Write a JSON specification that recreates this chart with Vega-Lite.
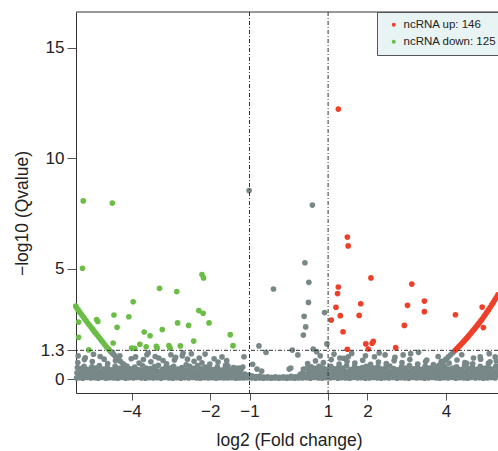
{
  "$schema": "https://vega.github.io/schema/vega-lite/v6.json",
  "width": 422,
  "height": 381,
  "autosize": {"type": "none"},
  "padding": {"left": 76, "top": 12, "right": 0, "bottom": 58},
  "background": "white",
  "config": {
    "view": {"stroke": null},
    "axis": {"labelFont": "Liberation Sans", "titleFont": "Liberation Sans", "labelFontSize": 17, "titleFontSize": 17.5, "titleFontWeight": "normal", "labelColor": "#222", "titleColor": "#222", "domainColor": "#333", "tickColor": "#555", "grid": false}
  },
  "datasets": {
    "gray": [
      {"x":-5.40,"y":0.05},{"x":-5.39,"y":0.28},{"x":-5.38,"y":0.52},{"x":-5.37,"y":0.75},
      {"x":-5.33,"y":0.06},{"x":-5.31,"y":0.22},{"x":-5.30,"y":0.47},
      {"x":-5.24,"y":0.04},{"x":-5.22,"y":0.31},{"x":-5.21,"y":0.58},{"x":-5.20,"y":0.88},
      {"x":-5.14,"y":0.07},{"x":-5.12,"y":0.19},{"x":-5.11,"y":0.44},
      {"x":-5.04,"y":0.05},{"x":-5.02,"y":0.27},{"x":-5.01,"y":0.55},{"x":-5.00,"y":0.79},
      {"x":-4.94,"y":0.06},{"x":-4.93,"y":0.24},{"x":-4.91,"y":0.49},
      {"x":-4.85,"y":0.04},{"x":-4.83,"y":0.33},{"x":-4.82,"y":0.61},{"x":-4.80,"y":1.02},
      {"x":-4.75,"y":0.07},{"x":-4.74,"y":0.21},{"x":-4.72,"y":0.45},
      {"x":-4.65,"y":0.04},{"x":-4.64,"y":0.29},{"x":-4.62,"y":0.53},{"x":-4.61,"y":0.70},
      {"x":-4.55,"y":0.06},{"x":-4.54,"y":0.18},{"x":-4.52,"y":0.42},
      {"x":-4.45,"y":0.05},{"x":-4.44,"y":0.30},{"x":-4.42,"y":0.57},{"x":-4.41,"y":0.83},
      {"x":-4.35,"y":0.04},{"x":-4.34,"y":0.25},{"x":-4.32,"y":0.48},
      {"x":-4.25,"y":0.07},{"x":-4.24,"y":0.20},{"x":-4.23,"y":0.51},{"x":-4.21,"y":0.66},
      {"x":-4.15,"y":0.04},{"x":-4.14,"y":0.32},{"x":-4.12,"y":0.59},
      {"x":-4.05,"y":0.06},{"x":-4.04,"y":0.23},{"x":-4.03,"y":0.46},{"x":-4.01,"y":0.92},
      {"x":-3.95,"y":0.05},{"x":-3.94,"y":0.27},{"x":-3.92,"y":0.54},
      {"x":-3.85,"y":0.07},{"x":-3.84,"y":0.19},{"x":-3.83,"y":0.43},{"x":-3.81,"y":0.72},
      {"x":-3.75,"y":0.05},{"x":-3.74,"y":0.31},{"x":-3.72,"y":0.60},
      {"x":-3.65,"y":0.04},{"x":-3.64,"y":0.24},{"x":-3.63,"y":0.50},{"x":-3.61,"y":1.10},
      {"x":-3.55,"y":0.06},{"x":-3.54,"y":0.28},{"x":-3.52,"y":0.47},{"x":-3.51,"y":0.78},
      {"x":-3.45,"y":0.05},{"x":-3.44,"y":0.22},{"x":-3.42,"y":0.56},
      {"x":-3.35,"y":0.06},{"x":-3.34,"y":0.33},{"x":-3.32,"y":0.62},{"x":-3.31,"y":0.95},
      {"x":-3.25,"y":0.04},{"x":-3.24,"y":0.20},{"x":-3.22,"y":0.44},
      {"x":-3.15,"y":0.07},{"x":-3.14,"y":0.26},{"x":-3.13,"y":0.53},{"x":-3.11,"y":0.69},
      {"x":-3.05,"y":0.05},{"x":-3.04,"y":0.30},{"x":-3.02,"y":0.49},
      {"x":-2.95,"y":0.04},{"x":-2.94,"y":0.21},{"x":-2.93,"y":0.58},{"x":-2.91,"y":0.86},
      {"x":-2.85,"y":0.06},{"x":-2.84,"y":0.29},{"x":-2.82,"y":0.45},
      {"x":-2.75,"y":0.04},{"x":-2.74,"y":0.25},{"x":-2.72,"y":0.52},{"x":-2.71,"y":1.05},
      {"x":-2.65,"y":0.06},{"x":-2.64,"y":0.18},{"x":-2.62,"y":0.41},{"x":-2.61,"y":0.64},
      {"x":-2.55,"y":0.05},{"x":-2.54,"y":0.32},{"x":-2.52,"y":0.57},
      {"x":-2.45,"y":0.07},{"x":-2.44,"y":0.23},{"x":-2.42,"y":0.48},{"x":-2.41,"y":0.80},
      {"x":-2.35,"y":0.05},{"x":-2.34,"y":0.27},{"x":-2.32,"y":0.61},
      {"x":-2.25,"y":0.04},{"x":-2.24,"y":0.20},{"x":-2.22,"y":0.46},{"x":-2.21,"y":0.73},
      {"x":-2.15,"y":0.06},{"x":-2.14,"y":0.30},{"x":-2.12,"y":0.54},
      {"x":-2.05,"y":0.05},{"x":-2.04,"y":0.24},{"x":-2.02,"y":0.50},{"x":-2.01,"y":0.68},
      {"x":-1.95,"y":0.06},{"x":-1.94,"y":0.19},{"x":-1.92,"y":0.43},
      {"x":-1.85,"y":0.04},{"x":-1.84,"y":0.28},{"x":-1.82,"y":0.55},{"x":-1.80,"y":0.77},
      {"x":-1.75,"y":0.06},{"x":-1.74,"y":0.22},{"x":-1.72,"y":0.40},
      {"x":-1.65,"y":0.05},{"x":-1.64,"y":0.26},{"x":-1.62,"y":0.49},{"x":-1.61,"y":0.62},
      {"x":-1.55,"y":0.05},{"x":-1.54,"y":0.20},{"x":-1.52,"y":0.44},
      {"x":-1.45,"y":0.06},{"x":-1.44,"y":0.25},{"x":-1.42,"y":0.36},{"x":-1.41,"y":0.52},
      {"x":-1.35,"y":0.04},{"x":-1.34,"y":0.18},{"x":-1.32,"y":0.33},
      {"x":-1.25,"y":0.05},{"x":-1.24,"y":0.15},{"x":-1.22,"y":0.27},{"x":-1.21,"y":0.45},
      {"x":-1.15,"y":0.05},{"x":-1.14,"y":0.12},{"x":-1.12,"y":0.22},
      {"x":-1.05,"y":0.06},{"x":-1.04,"y":0.10},{"x":-1.02,"y":0.18},
      {"x":-5.35,"y":0.16},{"x":-5.34,"y":0.38},{"x":-5.26,"y":0.12},{"x":-5.25,"y":0.41},{"x":-5.17,"y":0.17},{"x":-5.16,"y":0.35},{"x":-5.07,"y":0.13},{"x":-5.06,"y":0.40},{"x":-4.97,"y":0.15},{"x":-4.96,"y":0.37},{"x":-4.88,"y":0.11},{"x":-4.87,"y":0.42},{"x":-4.78,"y":0.16},{"x":-4.77,"y":0.36},{"x":-4.69,"y":0.14},{"x":-4.68,"y":0.39},{"x":-4.59,"y":0.12},{"x":-4.58,"y":0.34},{"x":-4.49,"y":0.17},{"x":-4.48,"y":0.40},{"x":-4.39,"y":0.13},{"x":-4.38,"y":0.37},{"x":-4.29,"y":0.15},{"x":-4.28,"y":0.36},{"x":-4.19,"y":0.11},{"x":-4.18,"y":0.41},{"x":-4.09,"y":0.16},{"x":-4.08,"y":0.38},{"x":-3.99,"y":0.14},{"x":-3.98,"y":0.35},{"x":-3.89,"y":0.12},{"x":-3.88,"y":0.40},{"x":-3.79,"y":0.17},{"x":-3.78,"y":0.37},{"x":-3.69,"y":0.13},{"x":-3.68,"y":0.42},{"x":-3.59,"y":0.15},{"x":-3.58,"y":0.36},{"x":-3.49,"y":0.11},{"x":-3.48,"y":0.39},{"x":-3.39,"y":0.16},{"x":-3.38,"y":0.40},{"x":-3.29,"y":0.14},{"x":-3.28,"y":0.35},{"x":-3.19,"y":0.12},{"x":-3.18,"y":0.38},{"x":-3.09,"y":0.17},{"x":-3.08,"y":0.41},{"x":-2.99,"y":0.13},{"x":-2.98,"y":0.37},{"x":-2.89,"y":0.15},{"x":-2.88,"y":0.36},{"x":-2.79,"y":0.11},{"x":-2.78,"y":0.40},{"x":-2.69,"y":0.16},{"x":-2.68,"y":0.38},{"x":-2.59,"y":0.14},{"x":-2.58,"y":0.35},{"x":-2.49,"y":0.12},{"x":-2.48,"y":0.41},{"x":-2.39,"y":0.17},{"x":-2.38,"y":0.37},{"x":-2.29,"y":0.13},{"x":-2.28,"y":0.39},{"x":-2.19,"y":0.15},{"x":-2.18,"y":0.36},{"x":-2.09,"y":0.11},{"x":-2.08,"y":0.40},{"x":-1.99,"y":0.16},{"x":-1.98,"y":0.35},{"x":-1.89,"y":0.14},{"x":-1.88,"y":0.38},{"x":-1.79,"y":0.12},{"x":-1.78,"y":0.34},{"x":-1.69,"y":0.17},{"x":-1.68,"y":0.36},{"x":-1.59,"y":0.13},{"x":-1.58,"y":0.32},{"x":-1.49,"y":0.15},{"x":-1.48,"y":0.30},{"x":-1.39,"y":0.11},{"x":-1.38,"y":0.26},{"x":-1.29,"y":0.10},{"x":-1.28,"y":0.22},{"x":-1.19,"y":0.09},{"x":-1.09,"y":0.08},
      {"x":-5.36,"y":1.05},{"x":-5.18,"y":0.96},{"x":-4.97,"y":1.12},{"x":-4.70,"y":0.90},{"x":-4.48,"y":1.20},{"x":-4.30,"y":1.05},{"x":-3.90,"y":1.00},{"x":-3.70,"y":0.88},{"x":-3.58,"y":1.18},{"x":-3.40,"y":1.02},{"x":-3.20,"y":0.84},{"x":-3.00,"y":1.10},{"x":-2.88,"y":0.98},{"x":-2.69,"y":1.18},{"x":-2.58,"y":0.90},{"x":-2.48,"y":1.14},{"x":-2.28,"y":0.95},{"x":-2.13,"y":1.13},{"x":-1.90,"y":0.92},{"x":-1.70,"y":1.00},{"x":-1.58,"y":0.83},{"x":-1.55,"y":0.60},{"x":-1.37,"y":0.50},{"x":-1.27,"y":0.50},{"x":-1.17,"y":0.54},{"x":-1.14,"y":1.01},
      {"x":-4.53,"y":1.24},{"x":-4.48,"y":1.15},{"x":-4.43,"y":1.06},{"x":-4.38,"y":0.97},{"x":-4.33,"y":0.88},{"x":-4.28,"y":0.79},{"x":-4.22,"y":0.69},{"x":-4.16,"y":0.59},{"x":-4.10,"y":0.49},{"x":-4.04,"y":0.39},{"x":-3.98,"y":0.30},
      {"x":-0.95,"y":0.05},{"x":-0.94,"y":0.14},{"x":-0.92,"y":0.67},{"x":-0.85,"y":0.04},{"x":-0.84,"y":0.11},{"x":-0.81,"y":0.45},{"x":-0.76,"y":1.50},{"x":-0.75,"y":0.05},{"x":-0.74,"y":0.13},{"x":-0.69,"y":0.36},{"x":-0.65,"y":0.04},{"x":-0.64,"y":0.09},{"x":-0.58,"y":1.21},{"x":-0.55,"y":0.05},{"x":-0.54,"y":0.10},{"x":-0.45,"y":0.04},{"x":-0.44,"y":0.08},{"x":-0.35,"y":0.05},{"x":-0.34,"y":0.10},{"x":-0.25,"y":0.04},{"x":-0.24,"y":0.08},{"x":-0.15,"y":0.05},{"x":-0.14,"y":0.10},{"x":-0.05,"y":0.04},{"x":-0.04,"y":0.09},{"x":0.01,"y":0.45},{"x":0.05,"y":0.05},{"x":0.06,"y":0.12},{"x":0.05,"y":0.50},{"x":0.09,"y":1.31},{"x":0.15,"y":0.04},{"x":0.16,"y":0.10},{"x":0.23,"y":1.09},{"x":0.25,"y":0.05},{"x":0.26,"y":0.14},{"x":0.30,"y":0.22},
      {"x":-1.01,"y":8.54},{"x":0.60,"y":7.88},{"x":0.41,"y":5.27},{"x":0.51,"y":4.38},{"x":-0.39,"y":4.08},{"x":0.50,"y":3.47},{"x":0.39,"y":2.84},{"x":0.43,"y":2.36},{"x":0.37,"y":1.99},{"x":0.91,"y":3.01},{"x":0.97,"y":1.59},{"x":0.62,"y":1.36},
      {"x":0.35,"y":0.05},{"x":0.36,"y":0.27},{"x":0.37,"y":0.45},
      {"x":0.45,"y":0.06},{"x":0.46,"y":0.22},{"x":0.47,"y":0.51},{"x":0.48,"y":0.70},
      {"x":0.55,"y":0.04},{"x":0.56,"y":0.30},{"x":0.57,"y":0.55},
      {"x":0.65,"y":0.07},{"x":0.66,"y":0.25},{"x":0.67,"y":0.48},{"x":0.68,"y":0.82},
      {"x":0.75,"y":0.05},{"x":0.76,"y":0.19},{"x":0.77,"y":0.58},
      {"x":0.85,"y":0.04},{"x":0.86,"y":0.29},{"x":0.87,"y":0.50},{"x":0.88,"y":0.74},
      {"x":0.95,"y":0.06},{"x":0.96,"y":0.23},{"x":0.97,"y":0.44},
      {"x":1.05,"y":0.05},{"x":1.06,"y":0.31},{"x":1.07,"y":0.57},{"x":1.08,"y":0.88},
      {"x":1.15,"y":0.07},{"x":1.16,"y":0.20},{"x":1.17,"y":0.46},
      {"x":1.25,"y":0.04},{"x":1.26,"y":0.27},{"x":1.27,"y":0.53},{"x":1.28,"y":0.68},
      {"x":1.35,"y":0.06},{"x":1.36,"y":0.24},{"x":1.37,"y":0.49},
      {"x":1.45,"y":0.05},{"x":1.46,"y":0.32},{"x":1.47,"y":0.60},{"x":1.48,"y":0.79},
      {"x":1.55,"y":0.04},{"x":1.56,"y":0.18},{"x":1.57,"y":0.43},
      {"x":1.65,"y":0.07},{"x":1.66,"y":0.28},{"x":1.67,"y":0.55},{"x":1.68,"y":0.72},
      {"x":1.75,"y":0.05},{"x":1.76,"y":0.21},{"x":1.77,"y":0.47},
      {"x":1.85,"y":0.06},{"x":1.86,"y":0.30},{"x":1.87,"y":0.52},{"x":1.88,"y":0.85},
      {"x":1.95,"y":0.04},{"x":1.96,"y":0.25},{"x":1.97,"y":0.58},
      {"x":2.05,"y":0.05},{"x":2.06,"y":0.19},{"x":2.07,"y":0.44},{"x":2.08,"y":0.66},
      {"x":2.15,"y":0.07},{"x":2.16,"y":0.33},{"x":2.17,"y":0.50},
      {"x":2.25,"y":0.05},{"x":2.26,"y":0.22},{"x":2.27,"y":0.56},{"x":2.28,"y":0.77},
      {"x":2.35,"y":0.04},{"x":2.36,"y":0.27},{"x":2.37,"y":0.45},
      {"x":2.45,"y":0.06},{"x":2.46,"y":0.20},{"x":2.47,"y":0.53},{"x":2.48,"y":0.70},
      {"x":2.55,"y":0.05},{"x":2.56,"y":0.31},{"x":2.57,"y":0.59},
      {"x":2.65,"y":0.07},{"x":2.66,"y":0.24},{"x":2.67,"y":0.47},{"x":2.68,"y":0.83},
      {"x":2.75,"y":0.04},{"x":2.76,"y":0.18},{"x":2.77,"y":0.42},
      {"x":2.85,"y":0.06},{"x":2.86,"y":0.29},{"x":2.87,"y":0.55},{"x":2.88,"y":0.74},
      {"x":2.95,"y":0.05},{"x":2.96,"y":0.23},{"x":2.97,"y":0.50},
      {"x":3.05,"y":0.04},{"x":3.06,"y":0.32},{"x":3.07,"y":0.61},{"x":3.08,"y":0.88},
      {"x":3.15,"y":0.07},{"x":3.16,"y":0.21},{"x":3.17,"y":0.46},
      {"x":3.25,"y":0.05},{"x":3.26,"y":0.27},{"x":3.27,"y":0.53},{"x":3.28,"y":0.68},
      {"x":3.35,"y":0.06},{"x":3.36,"y":0.19},{"x":3.37,"y":0.44},
      {"x":3.45,"y":0.04},{"x":3.46,"y":0.30},{"x":3.47,"y":0.57},{"x":3.48,"y":0.79},
      {"x":3.55,"y":0.05},{"x":3.56,"y":0.25},{"x":3.57,"y":0.49},
      {"x":3.65,"y":0.07},{"x":3.66,"y":0.22},{"x":3.67,"y":0.54},{"x":3.68,"y":0.65},
      {"x":3.75,"y":0.05},{"x":3.76,"y":0.28},{"x":3.77,"y":0.46},
      {"x":3.85,"y":0.04},{"x":3.86,"y":0.20},{"x":3.87,"y":0.52},{"x":3.88,"y":0.80},
      {"x":3.95,"y":0.06},{"x":3.96,"y":0.31},{"x":3.97,"y":0.58},
      {"x":4.05,"y":0.05},{"x":4.06,"y":0.24},{"x":4.07,"y":0.45},{"x":4.08,"y":0.72},
      {"x":4.15,"y":0.07},{"x":4.16,"y":0.18},{"x":4.17,"y":0.50},
      {"x":4.25,"y":0.04},{"x":4.26,"y":0.29},{"x":4.27,"y":0.55},{"x":4.28,"y":0.86},
      {"x":4.35,"y":0.06},{"x":4.36,"y":0.23},{"x":4.37,"y":0.43},
      {"x":4.45,"y":0.05},{"x":4.46,"y":0.32},{"x":4.47,"y":0.60},{"x":4.48,"y":0.75},
      {"x":4.55,"y":0.04},{"x":4.56,"y":0.21},{"x":4.57,"y":0.47},
      {"x":4.65,"y":0.07},{"x":4.66,"y":0.26},{"x":4.67,"y":0.53},{"x":4.68,"y":0.69},
      {"x":4.75,"y":0.05},{"x":4.76,"y":0.19},{"x":4.77,"y":0.44},
      {"x":4.85,"y":0.06},{"x":4.86,"y":0.30},{"x":4.87,"y":0.57},{"x":4.88,"y":0.90},
      {"x":4.95,"y":0.04},{"x":4.96,"y":0.24},{"x":4.97,"y":0.48},
      {"x":5.05,"y":0.05},{"x":5.06,"y":0.28},{"x":5.07,"y":0.55},{"x":5.08,"y":0.71},
      {"x":5.15,"y":0.07},{"x":5.16,"y":0.20},{"x":5.17,"y":0.45},
      {"x":5.25,"y":0.05},{"x":5.26,"y":0.31},{"x":5.27,"y":0.59},{"x":5.28,"y":0.82},
      {"x":0.40,"y":0.14},{"x":0.50,"y":0.15},{"x":0.51,"y":0.38},{"x":0.60,"y":0.12},{"x":0.61,"y":0.36},{"x":0.70,"y":0.16},{"x":0.71,"y":0.40},{"x":0.80,"y":0.13},{"x":0.81,"y":0.37},{"x":0.90,"y":0.15},{"x":0.91,"y":0.35},{"x":1.00,"y":0.11},{"x":1.01,"y":0.41},{"x":1.10,"y":0.16},{"x":1.11,"y":0.38},{"x":1.20,"y":0.14},{"x":1.21,"y":0.36},{"x":1.30,"y":0.12},{"x":1.31,"y":0.40},{"x":1.40,"y":0.17},{"x":1.41,"y":0.37},{"x":1.50,"y":0.13},{"x":1.51,"y":0.35},{"x":1.60,"y":0.15},{"x":1.61,"y":0.39},{"x":1.70,"y":0.11},{"x":1.71,"y":0.41},{"x":1.80,"y":0.16},{"x":1.81,"y":0.36},{"x":1.90,"y":0.14},{"x":1.91,"y":0.38},{"x":2.00,"y":0.12},{"x":2.01,"y":0.40},{"x":2.10,"y":0.17},{"x":2.11,"y":0.35},{"x":2.20,"y":0.13},{"x":2.21,"y":0.37},{"x":2.30,"y":0.15},{"x":2.31,"y":0.41},{"x":2.40,"y":0.11},{"x":2.41,"y":0.36},{"x":2.50,"y":0.16},{"x":2.51,"y":0.39},{"x":2.60,"y":0.14},{"x":2.61,"y":0.35},{"x":2.70,"y":0.12},{"x":2.71,"y":0.38},{"x":2.80,"y":0.17},{"x":2.81,"y":0.40},{"x":2.90,"y":0.13},{"x":2.91,"y":0.37},{"x":3.00,"y":0.15},{"x":3.01,"y":0.36},{"x":3.10,"y":0.11},{"x":3.11,"y":0.41},{"x":3.20,"y":0.16},{"x":3.21,"y":0.38},{"x":3.30,"y":0.14},{"x":3.31,"y":0.35},{"x":3.40,"y":0.12},{"x":3.41,"y":0.39},{"x":3.50,"y":0.17},{"x":3.51,"y":0.40},{"x":3.60,"y":0.13},{"x":3.61,"y":0.36},{"x":3.70,"y":0.15},{"x":3.71,"y":0.38},{"x":3.80,"y":0.11},{"x":3.81,"y":0.37},{"x":3.90,"y":0.16},{"x":3.91,"y":0.41},{"x":4.00,"y":0.14},{"x":4.01,"y":0.35},{"x":4.10,"y":0.12},{"x":4.11,"y":0.39},{"x":4.20,"y":0.17},{"x":4.21,"y":0.36},{"x":4.30,"y":0.13},{"x":4.31,"y":0.40},{"x":4.40,"y":0.15},{"x":4.41,"y":0.38},{"x":4.50,"y":0.11},{"x":4.51,"y":0.37},{"x":4.60,"y":0.16},{"x":4.61,"y":0.35},{"x":4.70,"y":0.14},{"x":4.71,"y":0.41},{"x":4.80,"y":0.12},{"x":4.81,"y":0.36},{"x":4.90,"y":0.17},{"x":4.91,"y":0.39},{"x":5.00,"y":0.13},{"x":5.01,"y":0.38},{"x":5.10,"y":0.15},{"x":5.11,"y":0.40},{"x":5.20,"y":0.11},{"x":5.21,"y":0.36},{"x":5.30,"y":0.16},{"x":5.31,"y":0.37},
      {"x":0.71,"y":1.24},{"x":1.15,"y":1.13},{"x":1.40,"y":0.94},{"x":1.60,"y":1.16},{"x":1.51,"y":1.01},{"x":2.18,"y":1.01},{"x":2.45,"y":1.09},{"x":2.91,"y":1.09},{"x":3.30,"y":1.21},{"x":3.51,"y":0.86},{"x":4.87,"y":1.01},{"x":5.12,"y":0.78},{"x":4.53,"y":0.71},{"x":5.25,"y":1.00},{"x":1.95,"y":1.05},{"x":2.70,"y":0.98},{"x":3.10,"y":1.15},{"x":3.80,"y":1.02},{"x":4.40,"y":1.10},{"x":4.70,"y":0.95},{"x":5.10,"y":1.15},{"x":0.80,"y":1.05},{"x":1.30,"y":0.95},{"x":2.30,"y":1.18},
      {"x":4.18,"y":1.20},{"x":4.12,"y":1.10},{"x":4.06,"y":1.00},{"x":4.00,"y":0.90},{"x":3.94,"y":0.80},{"x":3.88,"y":0.71},{"x":3.82,"y":0.62},{"x":3.76,"y":0.53},{"x":3.70,"y":0.44},{"x":3.64,"y":0.36},{"x":3.58,"y":0.28}
    ],
    "sig": [
      {"x":-5.23,"y":8.07,"g":"down"},{"x":-4.49,"y":7.97,"g":"down"},{"x":-5.25,"y":5.02,"g":"down"},{"x":-2.21,"y":4.73,"g":"down"},{"x":-2.17,"y":4.58,"g":"down"},{"x":-3.29,"y":4.11,"g":"down"},{"x":-2.85,"y":3.96,"g":"down"},{"x":-3.96,"y":3.50,"g":"down"},{"x":-2.29,"y":3.10,"g":"down"},{"x":-2.18,"y":2.98,"g":"down"},{"x":-4.45,"y":2.90,"g":"down"},{"x":-4.07,"y":2.82,"g":"down"},{"x":-2.83,"y":2.54,"g":"down"},{"x":-3.22,"y":2.24,"g":"down"},{"x":-2.55,"y":2.43,"g":"down"},{"x":-2.03,"y":2.54,"g":"down"},{"x":-4.37,"y":2.34,"g":"down"},{"x":-3.68,"y":2.13,"g":"down"},{"x":-3.53,"y":1.96,"g":"down"},{"x":-2.42,"y":1.72,"g":"down"},{"x":-1.49,"y":2.01,"g":"down"},{"x":-1.42,"y":1.51,"g":"down"},{"x":-4.47,"y":1.63,"g":"down"},{"x":-4.00,"y":1.40,"g":"down"},{"x":-3.92,"y":1.39,"g":"down"},{"x":-3.79,"y":1.57,"g":"down"},{"x":-3.63,"y":1.46,"g":"down"},{"x":-3.37,"y":1.48,"g":"down"},{"x":-3.35,"y":1.40,"g":"down"},{"x":-3.05,"y":1.51,"g":"down"},{"x":-3.02,"y":1.40,"g":"down"},{"x":-2.76,"y":1.50,"g":"down"},{"x":-4.89,"y":2.69,"g":"down"},{"x":-4.86,"y":2.61,"g":"down"},{"x":-5.35,"y":2.58,"g":"down"},{"x":-5.35,"y":1.89,"g":"down"},{"x":-5.09,"y":1.32,"g":"down"},
      {"x":-5.42,"y":3.30,"g":"down"},{"x":-5.40,"y":3.23,"g":"down"},{"x":-5.36,"y":3.13,"g":"down"},{"x":-5.32,"y":3.03,"g":"down"},{"x":-5.28,"y":2.93,"g":"down"},{"x":-5.24,"y":2.84,"g":"down"},{"x":-5.20,"y":2.74,"g":"down"},{"x":-5.16,"y":2.65,"g":"down"},{"x":-5.12,"y":2.55,"g":"down"},{"x":-5.08,"y":2.46,"g":"down"},{"x":-5.04,"y":2.37,"g":"down"},{"x":-5.00,"y":2.27,"g":"down"},{"x":-4.96,"y":2.18,"g":"down"},{"x":-4.92,"y":2.09,"g":"down"},{"x":-4.88,"y":2.00,"g":"down"},{"x":-4.84,"y":1.91,"g":"down"},{"x":-4.80,"y":1.82,"g":"down"},{"x":-4.76,"y":1.73,"g":"down"},{"x":-4.72,"y":1.64,"g":"down"},{"x":-4.68,"y":1.55,"g":"down"},{"x":-4.64,"y":1.46,"g":"down"},{"x":-4.60,"y":1.38,"g":"down"},{"x":-4.57,"y":1.32,"g":"down"},
      {"x":1.26,"y":12.23,"g":"up"},{"x":1.49,"y":6.43,"g":"up"},{"x":1.51,"y":6.03,"g":"up"},{"x":2.09,"y":4.58,"g":"up"},{"x":3.13,"y":4.30,"g":"up"},{"x":1.26,"y":4.17,"g":"up"},{"x":1.24,"y":3.87,"g":"up"},{"x":3.45,"y":3.53,"g":"up"},{"x":3.45,"y":3.05,"g":"up"},{"x":3.02,"y":3.34,"g":"up"},{"x":1.83,"y":3.41,"g":"up"},{"x":1.20,"y":3.25,"g":"up"},{"x":1.31,"y":2.87,"g":"up"},{"x":1.79,"y":2.88,"g":"up"},{"x":1.08,"y":2.67,"g":"up"},{"x":4.24,"y":2.91,"g":"up"},{"x":4.92,"y":3.26,"g":"up"},{"x":4.95,"y":2.33,"g":"up"},{"x":2.94,"y":2.43,"g":"up"},{"x":1.38,"y":2.14,"g":"up"},{"x":1.96,"y":1.59,"g":"up"},{"x":2.02,"y":1.36,"g":"up"},{"x":2.12,"y":1.62,"g":"up"},{"x":2.15,"y":1.71,"g":"up"},{"x":2.72,"y":1.42,"g":"up"},{"x":1.49,"y":1.35,"g":"up"},
      {"x":4.24,"y":1.31,"g":"up"},{"x":4.28,"y":1.38,"g":"up"},{"x":4.32,"y":1.46,"g":"up"},{"x":4.36,"y":1.53,"g":"up"},{"x":4.40,"y":1.61,"g":"up"},{"x":4.44,"y":1.68,"g":"up"},{"x":4.48,"y":1.76,"g":"up"},{"x":4.52,"y":1.84,"g":"up"},{"x":4.56,"y":1.92,"g":"up"},{"x":4.60,"y":2.00,"g":"up"},{"x":4.64,"y":2.09,"g":"up"},{"x":4.68,"y":2.18,"g":"up"},{"x":4.72,"y":2.26,"g":"up"},{"x":4.76,"y":2.35,"g":"up"},{"x":4.80,"y":2.44,"g":"up"},{"x":4.84,"y":2.53,"g":"up"},{"x":4.88,"y":2.62,"g":"up"},{"x":4.92,"y":2.72,"g":"up"},{"x":4.96,"y":2.82,"g":"up"},{"x":5.00,"y":2.92,"g":"up"},{"x":5.04,"y":3.03,"g":"up"},{"x":5.08,"y":3.13,"g":"up"},{"x":5.12,"y":3.24,"g":"up"},{"x":5.16,"y":3.35,"g":"up"},{"x":5.20,"y":3.46,"g":"up"},{"x":5.24,"y":3.58,"g":"up"},{"x":5.28,"y":3.69,"g":"up"},{"x":5.32,"y":3.81,"g":"up"}
    ]
  },
  "layer": [
    {
      "data": {"name": "gray"},
      "mark": {"type": "point", "filled": true, "size": 32, "opacity": 1, "color": "#788787"},
      "encoding": {
        "x": {"field": "x", "type": "quantitative", "title": "log2 (Fold change)",
              "scale": {"domain": [-5.415, 5.323], "nice": false, "zero": false},
              "axis": {"values": [-4, -2, -1, 1, 2, 4], "format": ".3~g", "tickSize": 7, "labelPadding": 3, "titleX": 213, "titleY": 47, "titleBaseline": "middle"}},
        "y": {"field": "y", "type": "quantitative", "title": "−log10 (Qvalue)",
              "scale": {"domain": [-0.634, 16.63], "nice": false, "zero": false},
              "axis": {"values": [0, 1.3, 5, 10, 15], "format": ".3~g", "tickSize": 9, "labelPadding": 3, "titleX": -54, "titleY": 201, "titleBaseline": "middle", "titleAngle": 270}}
      }
    },
    {
      "data": {"name": "sig"},
      "mark": {"type": "point", "filled": true, "size": 32, "opacity": 1},
      "encoding": {
        "x": {"field": "x", "type": "quantitative", "title": "log2 (Fold change)"},
        "y": {"field": "y", "type": "quantitative", "title": "−log10 (Qvalue)"},
        "color": {"field": "g", "type": "nominal",
                  "scale": {"domain": ["up", "down"], "range": ["#ee4029", "#6bbd45"]},
                  "legend": {"title": null, "orient": "none", "legendX": 301, "legendY": 0, "fillColor": "#e8f4f4", "strokeColor": "#555", "padding": 7, "symbolType": "circle", "symbolSize": 16, "symbolOffset": 4, "labelFontSize": 11.5, "labelFont": "Liberation Sans", "labelColor": "#222", "rowPadding": 4, "labelExpr": "datum.label == 'up' ? 'ncRNA up: 146' : 'ncRNA down: 125'"}}
      }
    },
    {
      "data": {"values": [{"x": -1}, {"x": 1}]},
      "mark": {"type": "rule", "color": "#333", "strokeWidth": 1, "strokeDash": [4, 2, 1, 2]},
      "encoding": {"x": {"field": "x", "type": "quantitative", "title": "log2 (Fold change)"}}
    },
    {
      "data": {"values": [{"y": 1.3}]},
      "mark": {"type": "rule", "color": "#333", "strokeWidth": 1, "strokeDash": [4, 2, 1, 2]},
      "encoding": {"y": {"field": "y", "type": "quantitative", "title": "−log10 (Qvalue)"}}
    },
    {
      "data": {"values": [{"y": 16.63}]},
      "mark": {"type": "rule", "color": "#333", "strokeWidth": 1},
      "encoding": {"y": {"field": "y", "type": "quantitative", "title": "−log10 (Qvalue)"}}
    }
  ]
}
